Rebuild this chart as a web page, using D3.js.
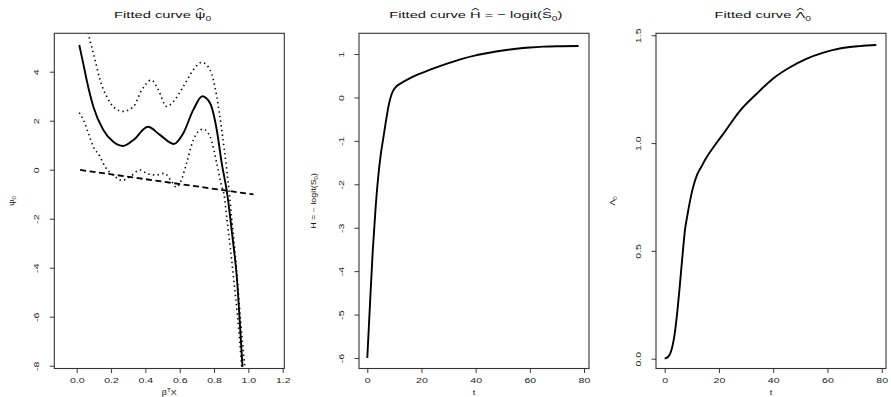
<!DOCTYPE html>
<html>
<head>
<meta charset="utf-8">
<script src="https://cdn.jsdelivr.net/npm/d3@7"></script>
<style>
body { margin: 0; background: #fff; }
svg { display: block; font-family: "Liberation Sans", Arial, Helvetica, sans-serif; }
</style>
</head>
<body>
<script>
// ---- data ----
// panel 1: fitted psi curve, its pointwise band and the dashed reference line
const psiFitX = [0.015, 0.038, 0.058, 0.097, 0.155, 0.213, 0.27, 0.33, 0.415, 0.485, 0.565, 0.621, 0.679, 0.732, 0.777, 0.816, 0.845, 0.877, 0.895, 0.915, 0.933, 0.948, 0.966];
const psiFitY = [5.09, 4.34, 3.66, 2.57, 1.62, 1.14, 0.97, 1.21, 1.75, 1.42, 1.05, 1.49, 2.44, 3.0, 2.71, 1.62, 0.26, -1.0, -2.0, -3.2, -4.4, -6.0, -8.05];
const psiUpX = [0.02, 0.077, 0.107, 0.136, 0.175, 0.213, 0.268, 0.33, 0.379, 0.435, 0.476, 0.524, 0.563, 0.621, 0.679, 0.728, 0.777, 0.816, 0.845, 0.874, 0.889, 0.903, 0.92, 0.936, 0.955, 0.98];
const psiUpY = [6.9, 5.29, 4.48, 3.66, 2.98, 2.57, 2.38, 2.57, 3.25, 3.66, 3.25, 2.58, 2.78, 3.39, 4.07, 4.38, 4.07, 2.98, 1.62, 0.0, -0.96, -2.0, -3.2, -4.5, -6.2, -8.1];
const psiLoX = [0.015, 0.039, 0.068, 0.097, 0.136, 0.165, 0.213, 0.265, 0.31, 0.369, 0.408, 0.46, 0.51, 0.555, 0.58, 0.605, 0.64, 0.679, 0.735, 0.777, 0.816, 0.845, 0.858, 0.875, 0.895, 0.915, 0.937, 0.962];
const psiLoY = [2.33, 2.03, 1.49, 0.94, 0.53, 0.12, -0.22, -0.44, -0.29, -0.01, -0.15, -0.22, -0.15, -0.5, -0.72, -0.5, 0.26, 1.21, 1.66, 1.35, 0.26, -0.69, -1.0, -2.0, -3.2, -4.5, -6.0, -8.1];
const refLineX = [0.02, 1.03];
const refLineY = [-0.01, -1.01];

// panel 2: H = -logit(S0)
const hT = [0, 1, 2, 3, 4, 5, 6, 7, 8, 9, 10, 11, 12.5, 16, 20, 25, 30, 35, 40, 45, 50, 55, 60, 65, 70, 78];
const hVal = [-6.0, -4.75, -3.55, -2.6, -1.85, -1.3, -0.9, -0.5, -0.15, 0.08, 0.2, 0.27, 0.33, 0.45, 0.56, 0.68, 0.79, 0.89, 0.97, 1.03, 1.08, 1.12, 1.15, 1.17, 1.18, 1.185];

// panel 3: cumulative hazard Lambda0
const lamT = [0, 1.5, 2.5, 3.5, 4.5, 5.5, 6.5, 7.5, 8.3, 9.0, 9.8, 10.8, 12, 13.5, 15.5, 18.5, 21.6, 27.8, 33.9, 40, 46.2, 52, 58.5, 65, 72, 78];
const lamVal = [0, 0.012, 0.04, 0.1, 0.2, 0.33, 0.47, 0.6, 0.66, 0.71, 0.76, 0.81, 0.855, 0.89, 0.935, 0.99, 1.043, 1.151, 1.229, 1.3, 1.352, 1.39, 1.42, 1.44, 1.45, 1.455];

// tick values
const p1XTicks = [0, 0.2, 0.4, 0.6, 0.8, 1.0, 1.2];
const p1YTicks = [-8, -6, -4, -2, 0, 2, 4];
const p2XTicks = [0, 20, 40, 60, 80];
const p2YTicks = [-6, -5, -4, -3, -2, -1, 0, 1];
const p3XTicks = [0, 20, 40, 60, 80];
const p3YTicks = [0, 0.5, 1.0, 1.5];

// ---- layout ----
const W = 891, H = 397;
const TITLE_FS = 9.8, TITLE_SX = 1.5;
const TICK_FS = 6.6, TICK_SX = 1.6;
const LAB_FS = 6.6, LAB_SX = 1.35;

const svg = d3.select("body").append("svg")
    .attr("width", W)
    .attr("height", H);

const zip = (xs, ys) => xs.map((x, i) => [x, ys[i]]);
const intFmt = v => String(v);   // plain hyphen minus, as in the picture

const panels = [
  {
    id: "p1", left: 54.3, right: 284.3, top: 33.3, bottom: 368.5,
    xDom: [-0.1305, 1.2093], yDom: [-8.114, 5.567],
    xTicks: p1XTicks, xFmt: d3.format(".1f"), yTicks: p1YTicks, yFmt: intFmt,
    titleX: 162.6,
    title: [{t: "Fitted curve "}, {t: "\u03C8", hat: true}, {t: "0", sub: true}],
    xlab: [{t: "\u03B2"}, {t: "T", sup: true}, {t: "X"}],
    ylab: [{t: "\u03C8"}, {t: "0", sub: true}], ylabOff: 42.6,
    series: [
      {pts: zip(psiFitX, psiFitY), w: 1.9},
      {pts: zip(psiUpX, psiUpY), w: 1.6, dash: "1.4,3.3"},
      {pts: zip(psiLoX, psiLoY), w: 1.6, dash: "1.4,3.3"},
      {pts: zip(refLineX, refLineY), w: 1.8, dash: "6,3.5", straight: true}
    ]
  },
  {
    id: "p2", left: 359, right: 589, top: 33.3, bottom: 368.5,
    xDom: [-3.064, 81.85], yDom: [-6.242, 1.477],
    xTicks: p2XTicks, xFmt: intFmt, yTicks: p2YTicks, yFmt: intFmt,
    titleX: 475.8,
    title: [{t: "Fitted curve "}, {t: "H", hat: true}, {t: " = \u2212 logit("}, {t: "S", hat: true}, {t: "0", sub: true}, {t: ")"}],
    xlab: [{t: "t"}],
    ylab: [{t: "H = \u2212 logit(S"}, {t: "0", sub: true}, {t: ")"}], ylabOff: 45.5,
    series: [{pts: zip(hT, hVal), w: 1.9}]
  },
  {
    id: "p3", left: 656, right: 886, top: 33.3, bottom: 368.5,
    xDom: [-3.207, 81.58], yDom: [-0.0455, 1.5093],
    xTicks: p3XTicks, xFmt: intFmt, yTicks: p3YTicks, yFmt: d3.format(".1f"),
    titleX: 762.8,
    title: [{t: "Fitted curve "}, {t: "\u039B", hat: true}, {t: "0", sub: true}],
    xlab: [{t: "t"}],
    ylab: [{t: "\u039B"}, {t: "0", sub: true}], ylabOff: 43.5,
    series: [{pts: zip(lamT, lamVal), w: 1.9}]
  }
];

// text made of pieces: plain, subscript, superscript, with optional hat on top
function mathText(g, segs, fs) {
  let text = g.append("text")
      .attr("text-anchor", "middle")
      .attr("font-size", fs)
      .attr("fill", "#111");
  let shift = 0, idx = 0;
  let hats = [];
  segs.forEach(s => {
    let target = s.sub ? 0.3 : (s.sup ? -0.45 : 0);
    let size = (s.sub || s.sup) ? fs * 0.7 : fs;
    text.append("tspan")
        .attr("font-size", size)
        .attr("dy", (target - shift) * fs)
        .text(s.t);
    shift = target;
    if (s.hat) hats.push([idx, idx + s.t.length - 1]);
    idx += s.t.length;
  });
  let node = text.node();
  hats.forEach(([a, b]) => {
    let x0 = node.getStartPositionOfChar(a).x;
    let x1 = node.getEndPositionOfChar(b).x;
    let cx = (x0 + x1) / 2, hw = fs * 0.24;
    let yb = -fs * 0.82, yt = -fs * 1.02;
    g.append("path")
        .attr("d", `M${cx - hw},${yb}L${cx},${yt}L${cx + hw},${yb}`)
        .attr("fill", "none")
        .attr("stroke", "#111")
        .attr("stroke-width", 0.7);
  });
  return text;
}

panels.forEach(p => {
  const x = d3.scaleLinear().domain(p.xDom).range([p.left, p.right]);
  const y = d3.scaleLinear().domain(p.yDom).range([p.bottom, p.top]);
  const g = svg.append("g");

  g.append("clipPath").attr("id", "clip-" + p.id)
    .append("rect")
      .attr("x", p.left).attr("y", p.top)
      .attr("width", p.right - p.left).attr("height", p.bottom - p.top);

  // curves
  const plot = g.append("g").attr("clip-path", `url(#clip-${p.id})`);
  p.series.forEach(s => {
    const line = d3.line()
        .x(d => x(d[0]))
        .y(d => y(d[1]))
        .curve(s.straight ? d3.curveLinear : d3.curveMonotoneX);
    plot.append("path")
        .datum(s.pts)
        .attr("d", line)
        .attr("fill", "none")
        .attr("stroke", "#000")
        .attr("stroke-width", s.w)
        .attr("stroke-dasharray", s.dash || null)
        .attr("stroke-linejoin", "round");
  });

  // axes
  const xAxis = d3.axisBottom(x).tickValues(p.xTicks).tickFormat(p.xFmt).tickSize(4.5).tickSizeOuter(0);
  const yAxis = d3.axisLeft(y).tickValues(p.yTicks).tickFormat(p.yFmt).tickSize(4.5).tickSizeOuter(0);

  const gx = g.append("g").attr("transform", `translate(0,${p.bottom})`).call(xAxis);
  const gy = g.append("g").attr("transform", `translate(${p.left},0)`).call(yAxis);
  [gx, gy].forEach(a => {
    a.select(".domain").remove();
    a.selectAll(".tick line").attr("stroke", "#222").attr("stroke-width", 0.9);
    a.selectAll(".tick text")
        .attr("font-family", null)
        .attr("font-size", TICK_FS)
        .attr("fill", "#222");
  });
  gx.selectAll(".tick text")
      .attr("y", null).attr("dy", "0.35em")
      .attr("transform", `translate(0,12) scale(${TICK_SX},1)`);
  gy.selectAll(".tick text")
      .attr("x", null).attr("dy", "0.35em")
      .attr("text-anchor", "middle")
      .attr("transform", `translate(-17.5,0) rotate(-90) scale(${TICK_SX},1)`);

  // box
  g.append("rect")
      .attr("x", p.left).attr("y", p.top)
      .attr("width", p.right - p.left).attr("height", p.bottom - p.top)
      .attr("fill", "none")
      .attr("stroke", "#333")
      .attr("stroke-width", 1.1);

  // title
  const tg = g.append("g").attr("transform", `translate(${p.titleX},18.3) scale(${TITLE_SX},1)`);
  mathText(tg, p.title, TITLE_FS);

  // axis labels
  const cx = (p.left + p.right) / 2, cy = (p.top + p.bottom) / 2;
  const xg = g.append("g").attr("transform", `translate(${cx},395) scale(${LAB_SX},1)`);
  mathText(xg, p.xlab, LAB_FS);
  const yg = g.append("g").attr("transform", `translate(${p.left - p.ylabOff + 2.3},${cy}) rotate(-90) scale(${LAB_SX},1)`);
  mathText(yg, p.ylab, LAB_FS);
});
</script>
</body>
</html>
